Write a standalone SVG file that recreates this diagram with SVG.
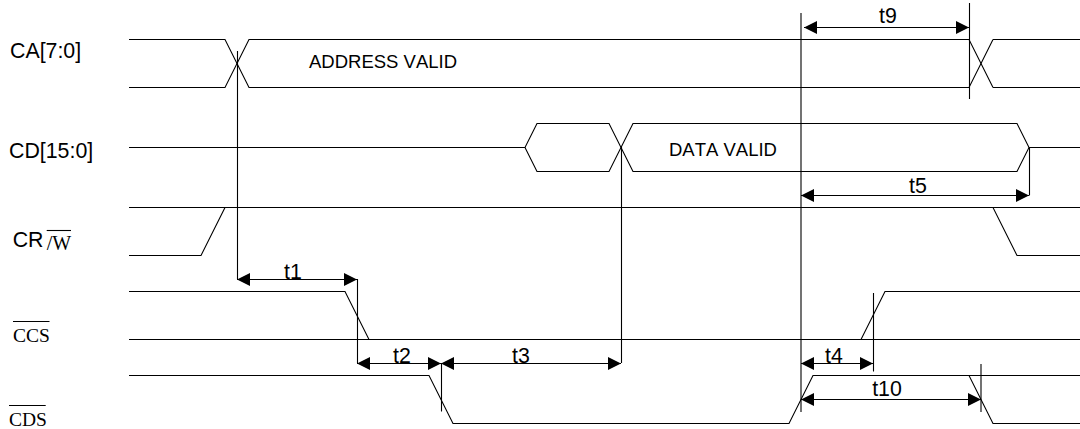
<svg xmlns="http://www.w3.org/2000/svg" width="1080" height="429" viewBox="0 0 1080 429">
<style>
.w{fill:none;stroke:#000;stroke-width:1.1}
.d{fill:none;stroke:#000;stroke-width:1.1}
text{fill:#000;font-kerning:none}
.s{font-family:"Liberation Sans",Arial,sans-serif;font-size:21.33px}
.v{font-family:"Liberation Sans",Arial,sans-serif;font-size:18.5px}
.t{font-family:"Liberation Sans",Arial,sans-serif;font-size:21.33px;text-anchor:middle}
.r{font-family:"Liberation Serif","Times New Roman",serif;font-size:19.5px}
</style>
<defs>
<marker id="a" markerUnits="userSpaceOnUse" markerWidth="13" markerHeight="13" refX="13" refY="6.5" orient="auto-start-reverse"><path d="M0 0L13 6.5L0 13Z" fill="#000"/></marker>
</defs>
<rect width="1080" height="429" fill="#fff"/>
<g id="ca">
<path class="w" d="M129 39.5H225L249 87.5H969L993 39.5"/>
<path class="w" d="M129 87.5H225L249 39.5H969L993 87.5"/>
<path class="w" d="M993 39.5H1080M993 87.5H1080"/>
<text class="s" x="10" y="58.3">CA[7:0]</text>
<text class="v" x="309" y="68">ADDRESS VALID</text>
</g>
<g id="cd">
<path class="w" d="M129 147.5H525L537 123.5H609L633 171.5H1017L1029 147.5H1080"/>
<path class="w" d="M525 147.5L537 171.5H609L633 123.5H1017L1029 147.5"/>
<text class="s" x="9" y="158">CD[15:0]</text>
<text class="v" x="669" y="156">DATA VALID</text>
</g>
<g id="cr">
<path class="w" d="M129 255.5H201L225 207.5H129M225 207.5H993L1017 255.5H1080M993 207.5H1080"/>
<text class="s" x="12.7" y="247">CR</text>
<text class="r" style="font-size:20px" x="46.7" y="249.5">/W</text>
<line class="w" x1="46.7" y1="230.5" x2="71" y2="230.5"/>
</g>
<g id="ccs">
<path class="w" d="M129 291.5H345L369 339.5M129 339.5H1080M861 339.5L885 291.5H1080"/>
<text class="r" x="13" y="342">CCS</text>
<line class="w" x1="13" y1="321.5" x2="49.5" y2="321.5"/>
</g>
<g id="cds">
<path class="w" d="M129 375.5H429L453 423.5H789L813 375.5H969L993 423.5H1080M813 375.5H1080"/>
<text class="r" x="9" y="426">CDS</text>
<line class="w" x1="9" y1="405.5" x2="45.7" y2="405.5"/>
</g>
<g id="connectors">
<path class="d" d="M237.5 51V279M357.5 279V363M441.5 363V411.5M621.5 147V363M801 13V412M969.5 3V99M1029.5 147V195.5M873.5 293V371.5M981 364V412"/>
<line class="d" x1="804" y1="27.5" x2="969" y2="27.5" marker-start="url(#a)" marker-end="url(#a)"/>
<line class="d" x1="801" y1="195.5" x2="1029" y2="195.5" marker-start="url(#a)" marker-end="url(#a)"/>
<line class="d" x1="237" y1="279.5" x2="357" y2="279.5" marker-start="url(#a)" marker-end="url(#a)"/>
<line class="d" x1="357" y1="363.5" x2="441" y2="363.5" marker-start="url(#a)" marker-end="url(#a)"/>
<line class="d" x1="441" y1="363.5" x2="621" y2="363.5" marker-start="url(#a)" marker-end="url(#a)"/>
<line class="d" x1="801" y1="363.5" x2="873" y2="363.5" marker-start="url(#a)" marker-end="url(#a)"/>
<line class="d" x1="801" y1="399.5" x2="981" y2="399.5" marker-start="url(#a)" marker-end="url(#a)"/>
</g>
<g id="timing-labels">
<text class="t" x="888" y="23">t9</text>
<text class="t" x="918" y="193">t5</text>
<text class="t" x="293" y="279">t1</text>
<text class="t" x="402" y="363">t2</text>
<text class="t" x="521" y="363">t3</text>
<text class="t" x="834" y="363">t4</text>
<text class="t" x="887" y="396">t10</text>
</g>
</svg>
